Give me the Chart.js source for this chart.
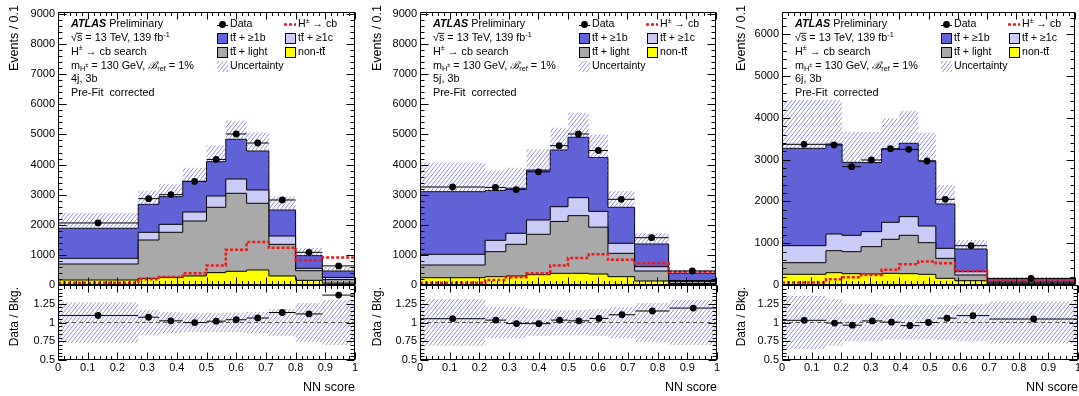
<!DOCTYPE html>
<html>
<head>
<meta charset="utf-8">
<script src="https://cdn.jsdelivr.net/npm/chart.js@4.4.1/dist/chart.umd.min.js"></script>
<style>
  html, body { margin: 0; padding: 0; background: #fff; }
  #fig { position: relative; width: 1079px; height: 396px; overflow: hidden; background: #fff; }
  #fig canvas { position: absolute; }
</style>
</head>
<body>
<div id="fig"></div>
<script>
// ---------- values per signal region (NN score bins, events / 0.1) ----------
const edges_4j3b   = [0, 0.27, 0.34, 0.42, 0.50, 0.565, 0.635, 0.71, 0.80, 0.89, 1.0];
const data_4j3b    = [2060, 2867, 3000, 3440, 4170, 5015, 4716, 2823, 1085, 635];
const ttb_4j3b     = [997, 929, 919, 1019, 1140, 1318, 1295, 864, 420, 215];
const ttc_4j3b     = [189, 256, 265, 299, 376, 475, 442, 277, 79, 70];
const ttlight_4j3b = [531, 1272, 1495, 1825, 2170, 2590, 2215, 1050, 320, 120];
const nontt_4j3b   = [166, 222, 255, 300, 410, 455, 498, 300, 155, 60];
const signal_4j3b  = [77, 188, 266, 388, 650, 1170, 1430, 1240, 820, 910];
const relUnc_4j3b  = [0.27, 0.17, 0.14, 0.13, 0.13, 0.13, 0.14, 0.18, 0.26, 0.30];

const edges_5j3b   = [0, 0.22, 0.29, 0.36, 0.44, 0.50, 0.57, 0.635, 0.725, 0.84, 1.0];
const data_5j3b    = [3255, 3240, 3170, 3760, 4627, 5015, 4467, 2846, 1571, 465];
const ttb_5j3b     = [2080, 1656, 1498, 1660, 1884, 2005, 1790, 1195, 753, 240];
const ttc_5j3b     = [355, 378, 366, 475, 490, 598, 525, 333, 144, 30];
const ttlight_5j3b = [422, 829, 1052, 1342, 1722, 1914, 1555, 775, 332, 70];
const nontt_5j3b   = [242, 277, 299, 342, 388, 388, 365, 277, 133, 50];
const signal_5j3b  = [77, 166, 255, 388, 650, 900, 1025, 840, 720, 430];
const relUnc_5j3b  = [0.31, 0.21, 0.21, 0.18, 0.165, 0.167, 0.18, 0.21, 0.26, 0.30];

const edges_6j3b   = [0, 0.15, 0.205, 0.27, 0.34, 0.40, 0.465, 0.525, 0.59, 0.70, 1.0];
const data_6j3b    = [3367, 3351, 2832, 2992, 3263, 3247, 2968, 2051, 941, 157];
const ttb_6j3b     = [2330, 2154, 1747, 1653, 1747, 1755, 1556, 1061, 543, 80];
const ttc_6j3b     = [407, 400, 391, 359, 406, 447, 399, 240, 80, 25];
const ttlight_6j3b = [278, 526, 527, 655, 815, 918, 757, 478, 136, 25];
const nontt_6j3b   = [256, 295, 271, 263, 279, 271, 256, 160, 103, 20];
const signal_6j3b  = [60, 136, 184, 239, 365, 494, 565, 519, 335, 100];
const relUnc_6j3b  = [0.354, 0.31, 0.25, 0.25, 0.23, 0.23, 0.23, 0.235, 0.25, 0.28];

// ---------- tick labels ----------
const xTicks      = [0, 0.1, 0.2, 0.3, 0.4, 0.5, 0.6, 0.7, 0.8, 0.9, 1];
const yTicks_9000 = [0, 1000, 2000, 3000, 4000, 5000, 6000, 7000, 8000, 9000];
const yTicks_6000 = [0, 1000, 2000, 3000, 4000, 5000, 6000];
const ratioTicks  = [0.5, 0.75, 1, 1.25];

const PANELS = [
  { region: '4j, 3b', edges: edges_4j3b, data: data_4j3b, ttb: ttb_4j3b, ttc: ttc_4j3b, light: ttlight_4j3b, nontt: nontt_4j3b, signal: signal_4j3b, unc: relUnc_4j3b, yMax: 9066, yTicks: yTicks_9000 },
  { region: '5j, 3b', edges: edges_5j3b, data: data_5j3b, ttb: ttb_5j3b, ttc: ttc_5j3b, light: ttlight_5j3b, nontt: nontt_5j3b, signal: signal_5j3b, unc: relUnc_5j3b, yMax: 9066, yTicks: yTicks_9000 },
  { region: '6j, 3b', edges: edges_6j3b, data: data_6j3b, ttb: ttb_6j3b, ttc: ttc_6j3b, light: ttlight_6j3b, nontt: nontt_6j3b, signal: signal_6j3b, unc: relUnc_6j3b, yMax: 6534, yTicks: yTicks_6000 }
];

// ---------- layout and style ----------
const FRAMES = [
  { x0: 0,   w: 360, L: 58,  R: 355,  titleX: 15 },
  { x0: 360, w: 360, L: 420, R: 717,  titleX: 18 },
  { x0: 720, w: 359, L: 782, R: 1078, titleX: 22 }
];
const TOP = 12, MID = 285, BOT = 360;
const FAMILY = '"Liberation Sans", Arial, Helvetica, sans-serif';
const COLORS = { ttb: '#6262d8', ttc: '#cbcbf7', light: '#a9a9a9', nontt: '#ffff00', signal: '#f01818', hatch: 'rgba(98,98,214,0.7)', ref: '#555555' };

Chart.defaults.font.family = FAMILY;
Chart.defaults.color = '#000';

function makeHatch() {
  const tile = document.createElement('canvas');
  tile.width = 4; tile.height = 5;
  const g = tile.getContext('2d');
  g.strokeStyle = COLORS.hatch;
  g.lineWidth = 1;
  g.beginPath();
  for (const off of [-4, 0, 4]) { g.moveTo(off, 5); g.lineTo(off + 4, 0); }
  g.stroke();
  return g.createPattern(tile, 'repeat');
}
const HATCH = makeHatch();

// histogram helpers
function stepPoints(edges, vals) {
  const pts = vals.map((v, i) => ({ x: edges[i], y: v }));
  pts.push({ x: edges[edges.length - 1], y: vals[vals.length - 1] });
  return pts;
}
function binBars(edges, vals) {
  const pts = [];
  vals.forEach((v, i) => { pts.push({ x: edges[i], y: v }, { x: edges[i + 1], y: v }, { x: edges[i + 1], y: null }); });
  return pts;
}
function binCentres(edges, vals) {
  return vals.map((v, i) => ({ x: (edges[i] + edges[i + 1]) / 2, y: v }));
}
function cumulate(layers) {
  const out = [];
  layers.forEach((arr, k) => out.push(arr.map((v, i) => v + (k ? out[k - 1][i] : 0))));
  return out;
}

// ---------- text helpers ----------
function rich(ctx, x, y, segs, size) {
  ctx.save();
  ctx.translate(x, y);
  ctx.fillStyle = '#000';
  ctx.textBaseline = 'middle';
  ctx.textAlign = 'left';
  let cx = 0;
  for (const s of segs) {
    let fs = size, dy = 0;
    if (s.sup) { fs = size * 0.68; dy = -size * 0.36; }
    if (s.sub) { fs = size * 0.68; dy = size * 0.30; }
    if (s.subsup) { fs = size * 0.52; dy = -size * 0.02; }
    ctx.font = (s.f ? s.f + ' ' : '') + fs + 'px ' + FAMILY;
    ctx.fillText(s.t, cx, dy);
    const w = ctx.measureText(s.t).width;
    if (s.bar) ctx.fillRect(cx, dy - size * 0.52, w, 0.9);
    cx += w;
  }
  ctx.restore();
}
const TTBAR = [{ t: 't' }, { t: 't', bar: true }];

function drawAnnotation(ctx, L, region) {
  const fs = 10.8, x = L + 13;
  const rows = [24.5, 38.5, 52, 65.7, 79.3, 93.3];
  rich(ctx, x, rows[0], [{ t: 'ATLAS', f: 'italic bold' }, { t: ' Preliminary' }], fs);
  rich(ctx, x, rows[1], [{ t: '\u221A' }, { t: 's', bar: true }, { t: ' = 13 TeV, 139 fb' }, { t: '-1', sup: true }], fs);
  rich(ctx, x, rows[2], [{ t: 'H' }, { t: '\u00B1', sup: true }, { t: ' \u2192 cb search' }], fs);
  rich(ctx, x, rows[3], [{ t: 'm' }, { t: 'H', sub: true }, { t: '\u00B1', subsup: true }, { t: ' = 130 GeV, ' }, { t: '\u212C', f: 'italic' }, { t: 'ref', sub: true }, { t: ' = 1%' }], fs);
  rich(ctx, x, rows[4], [{ t: region }], fs);
  rich(ctx, x, rows[5], [{ t: 'Pre-Fit  corrected' }], fs);
}

function drawLegend(ctx, L) {
  const fs = 10.6;
  const bx1 = L + 159, bx2 = L + 227, tx1 = L + 172, tx2 = L + 240;
  const rows = [24.5, 38.5, 52.5, 66.5];
  const box = (x, y, fill, outline) => {
    ctx.fillStyle = fill;
    ctx.fillRect(x, y - 5.5, 11, 11);
    if (outline) { ctx.strokeStyle = '#000'; ctx.lineWidth = 1; ctx.strokeRect(Math.round(x) + 0.5, Math.round(y - 5.5) + 0.5, 10, 10); }
  };
  ctx.save();
  // Data
  ctx.strokeStyle = '#000'; ctx.lineWidth = 1;
  ctx.beginPath(); ctx.moveTo(bx1, Math.round(rows[0]) + 0.5); ctx.lineTo(bx1 + 11, Math.round(rows[0]) + 0.5); ctx.stroke();
  ctx.fillStyle = '#000';
  ctx.beginPath(); ctx.arc(bx1 + 5.5, rows[0], 3.4, 0, Math.PI * 2); ctx.fill();
  rich(ctx, tx1, rows[0], [{ t: 'Data' }], fs);
  // signal
  ctx.save();
  ctx.strokeStyle = COLORS.signal; ctx.lineWidth = 2.5; ctx.setLineDash([3, 2]);
  ctx.beginPath(); ctx.moveTo(bx2 - 1, rows[0]); ctx.lineTo(bx2 + 11, rows[0]); ctx.stroke();
  ctx.restore();
  rich(ctx, tx2, rows[0], [{ t: 'H' }, { t: '\u00B1', sup: true }, { t: ' \u2192 cb' }], fs);
  // backgrounds
  box(bx1, rows[1], COLORS.ttb, true);
  rich(ctx, tx1, rows[1], TTBAR.concat([{ t: ' + \u22651b' }]), fs);
  box(bx2, rows[1], COLORS.ttc, true);
  rich(ctx, tx2, rows[1], TTBAR.concat([{ t: ' + \u22651c' }]), fs);
  box(bx1, rows[2], COLORS.light, true);
  rich(ctx, tx1, rows[2], TTBAR.concat([{ t: ' + light' }]), fs);
  box(bx2, rows[2], COLORS.nontt, true);
  rich(ctx, tx2, rows[2], [{ t: 'non-t' }, { t: 't', bar: true }], fs);
  box(bx1, rows[3], HATCH, false);
  rich(ctx, tx1, rows[3], [{ t: 'Uncertainty' }], fs);
  ctx.restore();
}

function drawVerticalTitle(ctx, x, y, text, size) {
  ctx.save();
  ctx.translate(x, y);
  ctx.rotate(-Math.PI / 2);
  ctx.font = size + 'px ' + FAMILY;
  ctx.fillStyle = '#000';
  ctx.textAlign = 'right';
  ctx.textBaseline = 'middle';
  ctx.fillText(text, 0, 0);
  ctx.restore();
}

// ---------- plugins ----------
const framePlugin = {
  id: 'frame',
  afterDatasetsDraw(chart, args, o) {
    const { ctx, chartArea: a } = chart;
    const xs = chart.scales.x, ys = chart.scales.y;
    const l = Math.round(a.left) + 0.5, r = Math.round(a.right) - 0.5;
    const t = Math.round(a.top) + 0.5, b = Math.round(a.bottom) - 0.5;
    ctx.save();
    ctx.strokeStyle = '#000';
    ctx.lineWidth = 1;
    ctx.beginPath();
    for (let i = 0; i <= 50; i++) {
      const px = Math.round(xs.getPixelForValue(i * 0.02)) + 0.5;
      const len = i % 5 === 0 ? o.xMaj : o.xMaj / 2;
      ctx.moveTo(px, b); ctx.lineTo(px, b - len);
      ctx.moveTo(px, t); ctx.lineTo(px, t + len);
    }
    const n = Math.floor((ys.max - o.yStart) / o.yStep + 1e-6);
    for (let k = 0; k <= n; k++) {
      const py = Math.round(ys.getPixelForValue(o.yStart + k * o.yStep)) + 0.5;
      const len = k % o.yEvery === 0 ? o.yMaj : o.yMaj / 2;
      ctx.moveTo(l, py); ctx.lineTo(l + len, py);
      ctx.moveTo(r, py); ctx.lineTo(r - len, py);
    }
    ctx.stroke();
    ctx.strokeRect(l, t, r - l, b - t);
    ctx.restore();
  }
};

const textPlugin = {
  id: 'texts',
  afterDraw(chart, args, o) {
    const ctx = chart.ctx;
    const L = chart.chartArea.left;
    drawVerticalTitle(ctx, o.titleX, o.titleY, o.title, o.titleSize);
    if (o.region) {
      drawAnnotation(ctx, L, o.region);
      drawLegend(ctx, L);
    }
  }
};

// ---------- dataset builders ----------
function mainDatasets(p) {
  const [yTop, lTop, cTop, total] = cumulate([p.nontt, p.light, p.ttc, p.ttb]);
  const up = total.map((v, i) => v * (1 + p.unc[i]));
  const dn = total.map((v, i) => v * (1 - p.unc[i]));
  const hist = (vals, color, order) => ({
    data: stepPoints(p.edges, vals), stepped: true, borderColor: '#000', borderWidth: 1,
    backgroundColor: color, fill: 'origin', pointRadius: 0, order
  });
  return [
    { label: 'Data', data: binCentres(p.edges, p.data), showLine: false, pointRadius: 3.4, pointBackgroundColor: '#000', pointBorderColor: '#000', pointBorderWidth: 0, backgroundColor: '#000', borderColor: '#000', order: 0 },
    { label: 'Data bins', data: binBars(p.edges, p.data), borderColor: '#000', borderWidth: 1, pointRadius: 0, fill: false, order: 1 },
    { label: 'H\u00B1 \u2192 cb', data: stepPoints(p.edges, p.signal), stepped: true, borderColor: COLORS.signal, borderWidth: 2.5, borderDash: [3, 2], pointRadius: 0, fill: false, order: 2 },
    { label: 'Uncertainty', data: stepPoints(p.edges, up), stepped: true, borderColor: 'rgba(0,0,0,0)', borderWidth: 1, backgroundColor: HATCH, fill: 4, pointRadius: 0, order: 3 },
    { label: 'Uncertainty low', data: stepPoints(p.edges, dn), stepped: true, borderColor: 'rgba(0,0,0,0)', borderWidth: 1, backgroundColor: 'rgba(0,0,0,0)', fill: false, pointRadius: 0, order: 3 },
    Object.assign(hist(yTop, COLORS.nontt, 4), { label: 'non-tt' }),
    Object.assign(hist(lTop, COLORS.light, 5), { label: 'tt + light' }),
    Object.assign(hist(cTop, COLORS.ttc, 6), { label: 'tt + >=1c' }),
    Object.assign(hist(total, COLORS.ttb, 7), { label: 'tt + >=1b' })
  ];
}

function ratioDatasets(p) {
  const total = cumulate([p.nontt, p.light, p.ttc, p.ttb])[3];
  const ratio = p.data.map((d, i) => d / total[i]);
  return [
    { label: 'Data / Bkg.', data: binCentres(p.edges, ratio), showLine: false, pointRadius: 3.4, pointBackgroundColor: '#000', pointBorderColor: '#000', pointBorderWidth: 0, backgroundColor: '#000', borderColor: '#000', order: 0 },
    { label: 'bins', data: binBars(p.edges, ratio), borderColor: '#000', borderWidth: 1, pointRadius: 0, fill: false, order: 1 },
    { label: 'unity', data: [{ x: 0, y: 1 }, { x: 1, y: 1 }], borderColor: COLORS.ref, borderWidth: 1, borderDash: [4, 3], pointRadius: 0, fill: false, order: 2 },
    { label: 'Uncertainty', data: stepPoints(p.edges, p.unc.map(u => 1 + u)), stepped: true, borderColor: 'rgba(0,0,0,0)', borderWidth: 1, backgroundColor: HATCH, fill: 4, pointRadius: 0, order: 3 },
    { label: 'Uncertainty low', data: stepPoints(p.edges, p.unc.map(u => 1 - u)), stepped: true, borderColor: 'rgba(0,0,0,0)', borderWidth: 1, backgroundColor: 'rgba(0,0,0,0)', fill: false, pointRadius: 0, order: 3 }
  ];
}

// ---------- chart construction ----------
const fig = document.getElementById('fig');
function addCanvas(left, top, w, h) {
  const c = document.createElement('canvas');
  c.width = w; c.height = h;
  c.style.left = left + 'px'; c.style.top = top + 'px';
  c.style.width = w + 'px'; c.style.height = h + 'px';
  fig.appendChild(c);
  return c;
}

const tickFont = { size: 11, family: FAMILY };

function buildMain(p, f) {
  const W = f.w, H = 296;
  const c = addCanvas(f.x0, 0, W, H);
  const L = f.L - f.x0, R = f.R - f.x0;
  const padL = 4;
  new Chart(c, {
    type: 'line',
    data: { datasets: mainDatasets(p) },
    options: {
      responsive: false, animation: false, devicePixelRatio: 1,
      layout: { padding: { left: padL, right: W - R, top: TOP, bottom: H - MID } },
      plugins: {
        legend: { display: false }, tooltip: { enabled: false },
        frame: { xMaj: 7, yMaj: 8, yStart: 0, yStep: 200, yEvery: 5 },
        texts: { titleX: f.titleX, titleY: 5, title: 'Events / 0.1', titleSize: 12.5, region: p.region }
      },
      scales: {
        x: { type: 'linear', min: 0, max: 1, display: false },
        y: {
          type: 'linear', min: 0, max: p.yMax,
          grid: { display: false, drawTicks: false }, border: { display: false },
          afterBuildTicks: s => { s.ticks = p.yTicks.map(v => ({ value: v })); },
          ticks: { padding: 3, font: tickFont, color: '#000', callback: v => String(v) },
          afterFit: s => { s.width = L - padL; }
        }
      }
    },
    plugins: [framePlugin, textPlugin]
  });
}

function buildRatio(p, f) {
  const top = 272, W = f.w + 12, H = 396 - top;
  const c = addCanvas(f.x0, top, W, H);
  const L = f.L - f.x0, R = f.R - f.x0;
  const padL = 4;
  new Chart(c, {
    type: 'line',
    data: { datasets: ratioDatasets(p) },
    options: {
      responsive: false, animation: false, devicePixelRatio: 1,
      layout: { padding: { left: padL, right: W - R, top: MID - top, bottom: 0 } },
      plugins: {
        legend: { display: false }, tooltip: { enabled: false },
        frame: { xMaj: 7, yMaj: 8, yStart: 0.5, yStep: 0.05, yEvery: 5 },
        texts: { titleX: f.titleX, titleY: 287 - top, title: 'Data / Bkg.', titleSize: 12, region: null }
      },
      scales: {
        x: {
          type: 'linear', min: 0, max: 1,
          grid: { display: false, drawTicks: false }, border: { display: false },
          afterBuildTicks: s => { s.ticks = xTicks.map(v => ({ value: v })); },
          ticks: { padding: 1, font: tickFont, color: '#000', autoSkip: false, maxRotation: 0, callback: v => String(v) },
          title: { display: true, text: 'NN score', align: 'end', color: '#000', font: { size: 12.5, family: FAMILY }, padding: { top: 0, bottom: 0.8 } },
          afterFit: s => { s.height = H - (BOT - top); }
        },
        y: {
          type: 'linear', min: 0.5, max: 1.5,
          grid: { display: false, drawTicks: false }, border: { display: false },
          afterBuildTicks: s => { s.ticks = ratioTicks.map(v => ({ value: v })); },
          ticks: { padding: 3, font: tickFont, color: '#000', callback: v => String(v) },
          afterFit: s => { s.width = L - padL; }
        }
      }
    },
    plugins: [framePlugin, textPlugin]
  });
}

PANELS.forEach((p, i) => buildMain(p, FRAMES[i]));
PANELS.forEach((p, i) => buildRatio(p, FRAMES[i]));
</script>
</body>
</html>
